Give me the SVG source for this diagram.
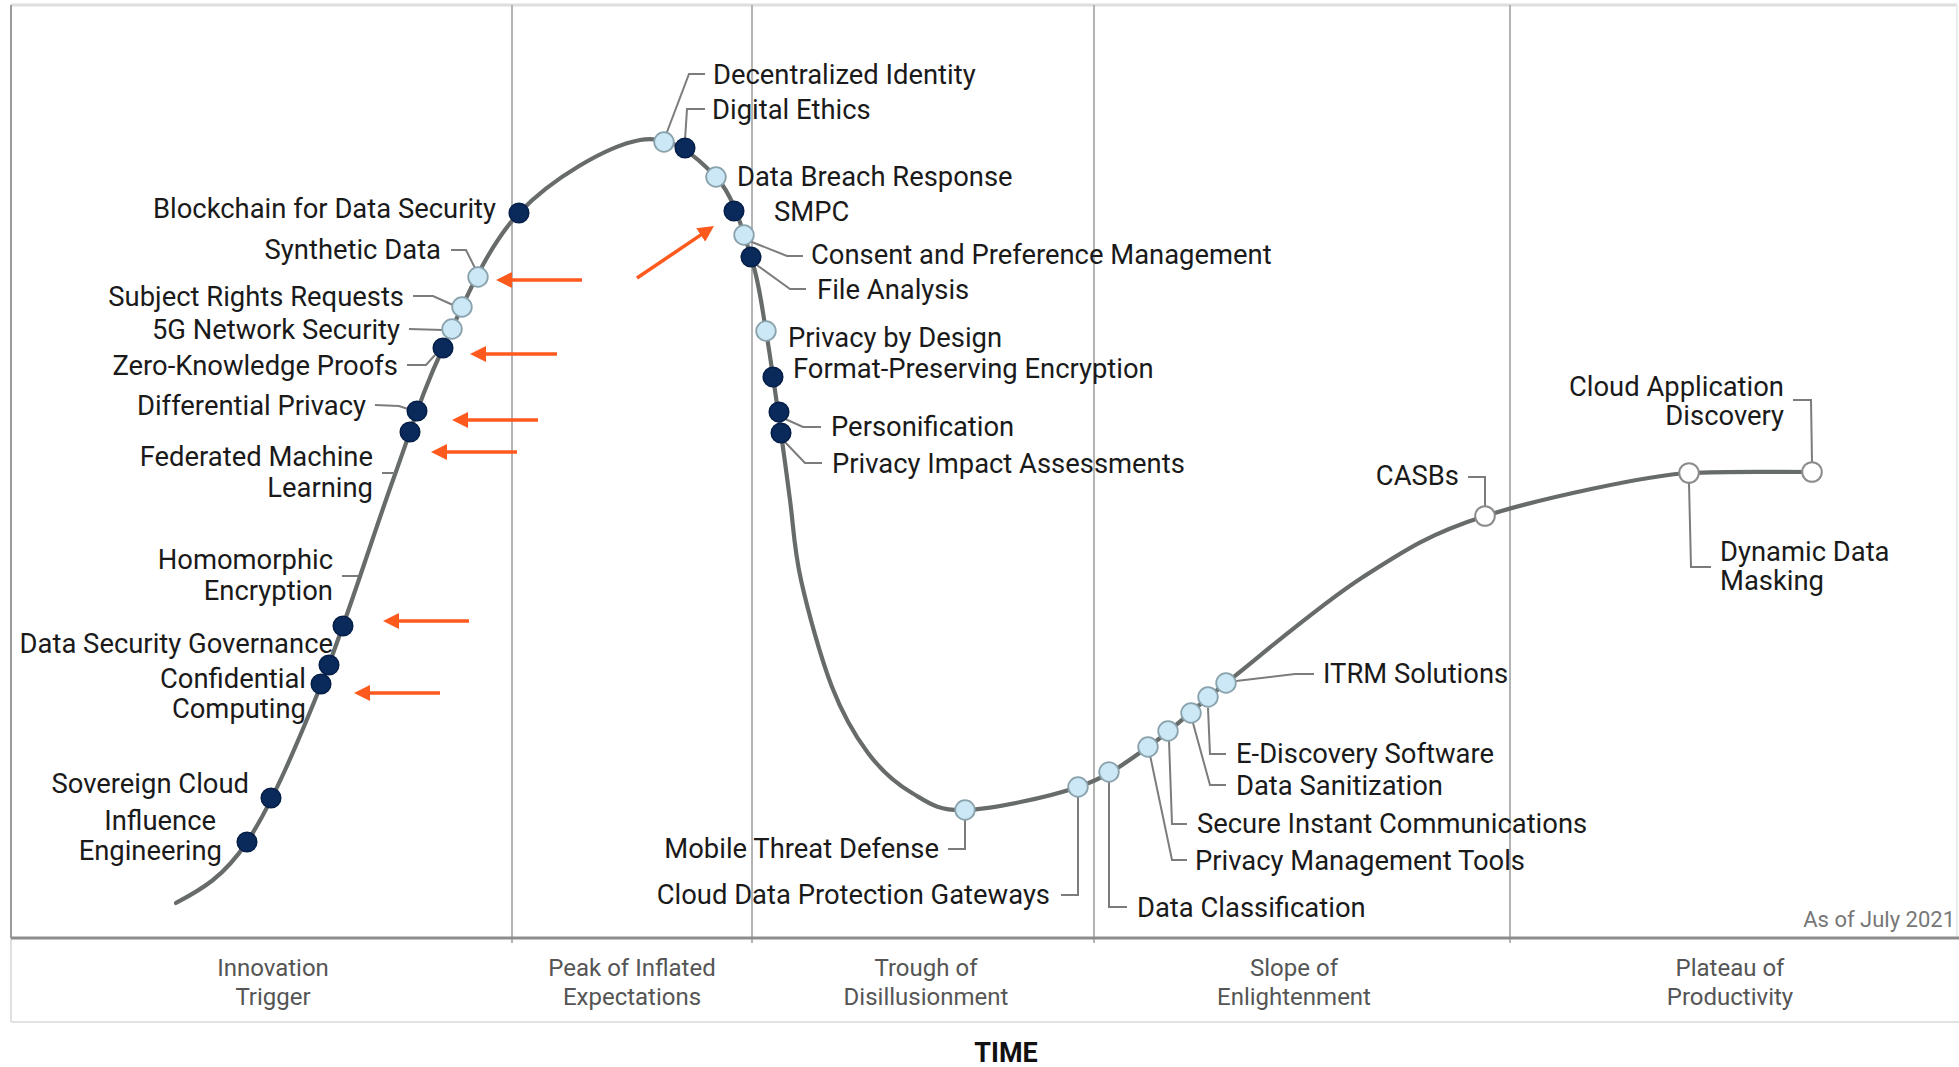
<svg xmlns="http://www.w3.org/2000/svg" width="1959" height="1067" viewBox="0 0 1959 1067">
<style>
.lbl{font-family:Roboto,"Liberation Sans",sans-serif;font-size:27.4px;fill:#1a1a1a}
.e{text-anchor:end}
.ph{font-family:Roboto,"Liberation Sans",sans-serif;font-size:24px;fill:#555;text-anchor:middle}
.dk{fill:#0a2a5c;stroke:#061f48;stroke-width:1.5}
.lt{fill:#cce8f6;stroke:#8aa2ad;stroke-width:1.8}
.wh{fill:#fff;stroke:#8c8c8c;stroke-width:2}
.ld{fill:none;stroke:#7c7c7c;stroke-width:2}
.ar{fill:none;stroke:#ff5a1e;stroke-width:3.5;marker-end:url(#ah)}
.dv{stroke:#b4b4b4;stroke-width:2}
</style>
<defs>
<marker id="ah" viewBox="0 0 16 16" refX="10" refY="8" markerWidth="16" markerHeight="16" markerUnits="userSpaceOnUse" orient="auto">
<path d="M0,0 L16,8 L0,16 z" fill="#ff5a1e"/>
</marker>
</defs>
<rect x="0" y="0" width="1959" height="1067" fill="#fff"/>
<g id="frame">
<line x1="11" y1="5" x2="1957" y2="5" stroke="#dedede" stroke-width="3"/>
<line x1="1957" y1="5" x2="1957" y2="938" stroke="#ececec" stroke-width="2"/>
<line x1="11" y1="5" x2="11" y2="938" stroke="#9a9a9a" stroke-width="2"/>
<line x1="11" y1="938" x2="11" y2="1022" stroke="#e0e0e0" stroke-width="2"/>
<line class="dv" x1="512" y1="5" x2="512" y2="943"/>
<line class="dv" x1="752" y1="5" x2="752" y2="943"/>
<line class="dv" x1="1094" y1="5" x2="1094" y2="943"/>
<line class="dv" x1="1510" y1="5" x2="1510" y2="943"/>
<line x1="11" y1="938" x2="1959" y2="938" stroke="#8d8d8d" stroke-width="3"/>
<line x1="11" y1="1022" x2="1959" y2="1022" stroke="#e2e2e2" stroke-width="2"/>
<text class="ph" x="273" y="976">Innovation</text>
<text class="ph" x="273" y="1005">Trigger</text>
<text class="ph" x="632" y="976">Peak of Inflated</text>
<text class="ph" x="632" y="1005">Expectations</text>
<text class="ph" x="926" y="976">Trough of</text>
<text class="ph" x="926" y="1005">Disillusionment</text>
<text class="ph" x="1294" y="976">Slope of</text>
<text class="ph" x="1294" y="1005">Enlightenment</text>
<text class="ph" x="1730" y="976">Plateau of</text>
<text class="ph" x="1730" y="1005">Productivity</text>
<text x="1955" y="927" font-family="Roboto,'Liberation Sans',sans-serif" font-size="22" fill="#777" text-anchor="end">As of July 2021</text>
<text x="1006" y="1062" font-family="Roboto,'Liberation Sans',sans-serif" font-size="27" font-weight="bold" fill="#111" text-anchor="middle">TIME</text>
</g>
<g id="curve">
<path d="M176,903 C200,890 222.8,878.3 247,842 C271.2,805.7 296.7,745.3 321,685 C345.3,624.7 372.7,536.2 393,480 C413.3,423.8 422,392.5 443,348 C464,303.5 486.2,247.7 519,213 C551.8,178.3 607.2,146 640,140 C672.8,134 697.5,157.5 716,177 C734.5,196.5 742.7,231.3 751,257 C759.3,282.7 761,301.7 766,331 C771,360.3 777,404.8 781,433 C785,461.2 786.7,475.5 790,500 C793.3,524.5 794,548.8 801,580 C808,611.2 820.8,658.2 832,687 C843.2,715.8 854.7,735.3 868,753 C881.3,770.7 895.8,783.5 912,793 C928.2,802.5 937.3,811 965,810 C992.7,809 1047.5,797.5 1078,787 C1108.5,776.5 1123.3,764.3 1148,747 C1172.7,729.7 1190.2,711.3 1226,683 C1261.8,654.7 1319.8,604.8 1363,577 C1406.2,549.2 1430.7,533.3 1485,516 C1539.3,498.7 1649,475 1689,473 C1729,471 1771,472 1812,472" fill="none" stroke="#676c6b" stroke-width="4.2" stroke-linecap="round"/>
</g>
<g id="connectors">
<polyline class="ld" points="451,250 466,250 475,268"/>
<polyline class="ld" points="413,296 433,296 453,305"/>
<polyline class="ld" points="409,329 443,330"/>
<polyline class="ld" points="407,365 426,365 435,355"/>
<polyline class="ld" points="375,405 399,406 408,409"/>
<polyline class="ld" points="382,473 395,473"/>
<polyline class="ld" points="342,576 358,576"/>
<polyline class="ld" points="705,74 689,74 667,132"/>
<polyline class="ld" points="705,109 687,109 685,140"/>
<polyline class="ld" points="747,240 787,256 803,256"/>
<polyline class="ld" points="754,263 790,289 806,289"/>
<polyline class="ld" points="783,418 803,427 821,427"/>
<polyline class="ld" points="783,440 805,463 822,463"/>
<polyline class="ld" points="948,849 965,849 965,820"/>
<polyline class="ld" points="1061,895 1078,895 1078,797"/>
<polyline class="ld" points="1109,782 1109,907 1127,907"/>
<polyline class="ld" points="1150,755 1172,860 1187,860"/>
<polyline class="ld" points="1169,740 1172,824 1187,824"/>
<polyline class="ld" points="1193,723 1210,785 1226,785"/>
<polyline class="ld" points="1208,708 1210,754 1226,754"/>
<polyline class="ld" points="1236,681 1295,674 1314,674"/>
<polyline class="ld" points="1468,477 1485,477 1485,506"/>
<polyline class="ld" points="1793,400 1811,400 1812,462"/>
<polyline class="ld" points="1689,483 1691,567 1711,567"/>
<line class="ar" x1="582" y1="280" x2="502" y2="280"/>
<line class="ar" x1="557" y1="354" x2="476" y2="354"/>
<line class="ar" x1="538" y1="420" x2="458" y2="420"/>
<line class="ar" x1="517" y1="452" x2="437" y2="452"/>
<line class="ar" x1="469" y1="621" x2="389" y2="621"/>
<line class="ar" x1="440" y1="693" x2="360" y2="693"/>
<line class="ar" x1="637" y1="278" x2="709" y2="229.4"/>
</g>
<g id="n-influence"><circle class="dk" cx="247" cy="842" r="9.8"/><text class="lbl e" x="216" y="830">Influence</text><text class="lbl e" x="222" y="860">Engineering</text></g>
<g id="n-sovereign"><circle class="dk" cx="271" cy="798" r="9.8"/><text class="lbl e" x="249" y="793">Sovereign Cloud</text></g>
<g id="n-confidential"><circle class="dk" cx="321" cy="684" r="9.8"/><text class="lbl e" x="306" y="688">Confidential</text><text class="lbl e" x="306" y="718">Computing</text></g>
<g id="n-dsg"><circle class="dk" cx="329" cy="665" r="9.8"/><text class="lbl e" x="333" y="653">Data Security Governance</text></g>
<g id="n-homomorphic"><circle class="dk" cx="343" cy="626" r="9.8"/><text class="lbl e" x="333" y="569">Homomorphic</text><text class="lbl e" x="333" y="600">Encryption</text></g>
<g id="n-federated"><circle class="dk" cx="410" cy="432" r="9.8"/><text class="lbl e" x="373" y="466">Federated Machine</text><text class="lbl e" x="373" y="497">Learning</text></g>
<g id="n-differential"><circle class="dk" cx="417" cy="411" r="9.8"/><text class="lbl e" x="366" y="415">Differential Privacy</text></g>
<g id="n-zkp"><circle class="dk" cx="443" cy="348" r="9.8"/><text class="lbl e" x="398" y="375">Zero-Knowledge Proofs</text></g>
<g id="n-5g"><circle class="lt" cx="452" cy="329" r="9.8"/><text class="lbl e" x="400" y="339">5G Network Security</text></g>
<g id="n-srr"><circle class="lt" cx="462" cy="307" r="9.8"/><text class="lbl e" x="404" y="306">Subject Rights Requests</text></g>
<g id="n-synthetic"><circle class="lt" cx="478" cy="277" r="9.8"/><text class="lbl e" x="441" y="259">Synthetic Data</text></g>
<g id="n-blockchain"><circle class="dk" cx="519" cy="213" r="9.8"/><text class="lbl e" x="496" y="218">Blockchain for Data Security</text></g>
<g id="n-decentralized"><circle class="lt" cx="664" cy="142" r="9.8"/><text class="lbl" x="713" y="84">Decentralized Identity</text></g>
<g id="n-ethics"><circle class="dk" cx="685" cy="148" r="9.8"/><text class="lbl" x="712" y="119">Digital Ethics</text></g>
<g id="n-breach"><circle class="lt" cx="716" cy="177" r="9.8"/><text class="lbl" x="737" y="186">Data Breach Response</text></g>
<g id="n-smpc"><circle class="dk" cx="734" cy="211" r="9.8"/><text class="lbl" x="774" y="221">SMPC</text></g>
<g id="n-consent"><circle class="lt" cx="744" cy="235" r="9.8"/><text class="lbl" x="811" y="264">Consent and Preference Management</text></g>
<g id="n-file"><circle class="dk" cx="751" cy="257" r="9.8"/><text class="lbl" x="817" y="299">File Analysis</text></g>
<g id="n-pbd"><circle class="lt" cx="766" cy="331" r="9.8"/><text class="lbl" x="788" y="347">Privacy by Design</text></g>
<g id="n-fpe"><circle class="dk" cx="773" cy="377" r="9.8"/><text class="lbl" x="793" y="378">Format-Preserving Encryption</text></g>
<g id="n-personification"><circle class="dk" cx="779" cy="412" r="9.8"/><text class="lbl" x="831" y="436">Personification</text></g>
<g id="n-pia"><circle class="dk" cx="781" cy="433" r="9.8"/><text class="lbl" x="832" y="473">Privacy Impact Assessments</text></g>
<g id="n-mtd"><circle class="lt" cx="965" cy="810" r="9.8"/><text class="lbl e" x="939" y="858">Mobile Threat Defense</text></g>
<g id="n-cdpg"><circle class="lt" cx="1078" cy="787" r="9.8"/><text class="lbl e" x="1050" y="904">Cloud Data Protection Gateways</text></g>
<g id="n-dataclass"><circle class="lt" cx="1109" cy="772" r="9.8"/><text class="lbl" x="1137" y="917">Data Classification</text></g>
<g id="n-pmt"><circle class="lt" cx="1148" cy="747" r="9.8"/><text class="lbl" x="1195" y="870">Privacy Management Tools</text></g>
<g id="n-sic"><circle class="lt" cx="1168" cy="731" r="9.8"/><text class="lbl" x="1197" y="833">Secure Instant Communications</text></g>
<g id="n-sanitization"><circle class="lt" cx="1191" cy="713" r="9.8"/><text class="lbl" x="1236" y="795">Data Sanitization</text></g>
<g id="n-ediscovery"><circle class="lt" cx="1208" cy="697" r="9.8"/><text class="lbl" x="1236" y="763">E-Discovery Software</text></g>
<g id="n-itrm"><circle class="lt" cx="1226" cy="683" r="9.8"/><text class="lbl" x="1323" y="683">ITRM Solutions</text></g>
<g id="n-casbs"><circle class="wh" cx="1485" cy="516" r="9.8"/><text class="lbl e" x="1459" y="485">CASBs</text></g>
<g id="n-ddm"><circle class="wh" cx="1689" cy="473" r="9.8"/><text class="lbl" x="1720" y="561">Dynamic Data</text><text class="lbl" x="1720" y="590">Masking</text></g>
<g id="n-cad"><circle class="wh" cx="1812" cy="472" r="9.8"/><text class="lbl e" x="1784" y="396">Cloud Application</text><text class="lbl e" x="1784" y="425">Discovery</text></g>
</svg>
